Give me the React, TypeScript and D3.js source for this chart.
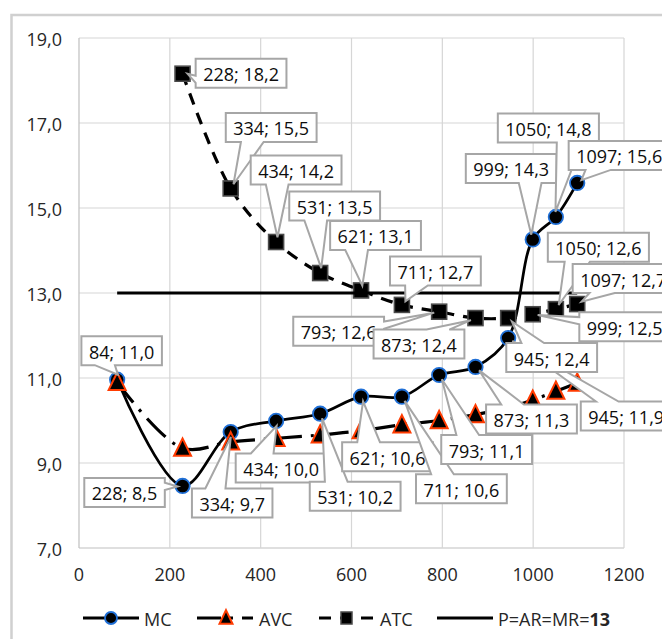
import React from "react";
import * as d3 from "d3";

const quantities = [84, 228, 334, 434, 531, 621, 711, 793, 873, 945, 999, 1050, 1097];
const mcValues = [10.96, 8.46, 9.73, 9.99, 10.16, 10.56, 10.56, 11.07, 11.26, 11.94, 14.26, 14.79, 15.59];
const avcValues = [10.9, 9.35, 9.5, 9.58, 9.66, 9.76, 9.9, 10.0, 10.14, 10.3, 10.48, 10.69, 10.88];
const atcValues: (number | null)[] = [null, 18.16, 15.46, 14.2, 13.47, 13.06, 12.72, 12.56, 12.41, 12.41, 12.5, 12.62, 12.74];
const priceValues = [13, 13, 13, 13, 13, 13, 13, 13, 13, 13, 13, 13, 13];
const xTicks = [0, 200, 400, 600, 800, 1000, 1200];
const yTicks = [7, 9, 11, 13, 15, 17, 19];
const seriesNames = ["MC", "AVC", "ATC", "P=AR=MR="];
const priceLabelValue = "13";

// label box offsets (px, box centre relative to point)
const mcLabelOffsets: [number, number][] = [[4.5, -29], [-58, 6.5], [1.5, 71], [5, 47], [35, 82.5], [26.5, 60], [59.5, 92], [47.5, 74.5], [56, 52], [118, 78], [-21.5, -71], [-7.5, -89], [42, -27.5]];
const atcLabelOffsets: ([number, number] | null)[] = [null, [58.5, -0.5], [40.5, -61], [20, -72], [14.5, -67], [14.5, -55], [33.5, -34], [-100.5, 19.5], [-56.5, 26], [43.5, 39.5], [92, 12.5], [42.5, -62], [46, -25.5]];

const W = 662, H = 639;
const PL = 79, PR = 624, PT = 38, PB = 548;
const FONT = "'Open Sans', 'Noto Sans', sans-serif";
const FS = 18;

const x = d3.scaleLinear().domain([0, 1200]).range([PL, PR]);
const y = d3.scaleLinear().domain([7, 19]).range([PB, PT]);

let ctx: CanvasRenderingContext2D | null = null;
function measure(t: string) {
  if (!ctx) ctx = document.createElement("canvas").getContext("2d");
  if (!ctx) return t.length * 9;
  ctx.font = `${FS}px ${FONT}`;
  return ctx.measureText(t).width;
}

function fmt(v: number) {
  return v.toFixed(1).replace(".", ",");
}

function calloutPath(l: number, t: number, w: number, h: number, px: number, py: number) {
  const r = l + w, b = t + h, hc = l + w / 2, vc = t + h / 2;
  const vx = px - hc, vy = py - vc;
  const len = Math.hypot(vx, vy) || 1;
  const tx = px - (vx / len) * 5, ty = py - (vy / len) * 5;
  const dx = tx - hc, dy = ty - vc;
  if (tx >= l && tx <= r && ty >= t && ty <= b) return `M${l},${t}H${r}V${b}H${l}Z`;
  const dq = (dx * h) / w;
  const dz = Math.abs(dy) - Math.abs(dq);
  const xa = dx > 0 ? l + (w * 7) / 12 : l + (w * 2) / 12;
  const xb = dx > 0 ? l + (w * 10) / 12 : l + (w * 5) / 12;
  const ya = dy > 0 ? t + (h * 7) / 12 : t + (h * 2) / 12;
  const yb = dy > 0 ? t + (h * 10) / 12 : t + (h * 5) / 12;
  if (dz > 0) {
    if (dy < 0) return `M${l},${t}L${xa},${t}L${tx},${ty}L${xb},${t}L${r},${t}L${r},${b}L${l},${b}Z`;
    return `M${l},${t}L${r},${t}L${r},${b}L${xb},${b}L${tx},${ty}L${xa},${b}L${l},${b}Z`;
  }
  if (dx > 0) return `M${l},${t}L${r},${t}L${r},${ya}L${tx},${ty}L${r},${yb}L${r},${b}L${l},${b}Z`;
  return `M${l},${t}L${r},${t}L${r},${b}L${l},${b}L${l},${yb}L${tx},${ty}L${l},${ya}Z`;
}

type Pt = { q: number; v: number };
function pts(vals: (number | null)[]): Pt[] {
  const out: Pt[] = [];
  quantities.forEach((q, i) => {
    const v = vals[i];
    if (v != null) out.push({ q, v });
  });
  return out;
}

const smooth = d3.line<Pt>().x((d) => x(d.q)).y((d) => y(d.v)).curve(d3.curveCatmullRom.alpha(0.5));
const straight = d3.line<Pt>().x((d) => x(d.q)).y((d) => y(d.v));

const triPath = (cx: number, cy: number, s: number) => {
  const h = s * 0.9;
  return `M${cx},${cy - h / 2 - 2}L${cx + s / 2},${cy + h / 2}L${cx - s / 2},${cy + h / 2}Z`;
};

function Circle({ cx, cy }: { cx: number; cy: number }) {
  return <circle cx={cx} cy={cy} r={7.2} fill="#000" stroke="#1f6fd6" strokeWidth={1.8} />;
}
function Tri({ cx, cy }: { cx: number; cy: number }) {
  return <path d={triPath(cx, cy, 17)} fill="#000" stroke="#ff3b00" strokeWidth={2} strokeLinejoin="miter" />;
}
function Sq({ cx, cy }: { cx: number; cy: number }) {
  return <rect x={cx - 7.5} y={cy - 7.5} width={15} height={15} fill="#000" stroke="#4a4a4a" strokeWidth={1.6} />;
}

function Labels({ vals, offs }: { vals: (number | null)[]; offs: ([number, number] | null)[] }) {
  return (
    <g>
      {quantities.map((q, i) => {
        const v = vals[i];
        const o = offs[i];
        if (v == null || !o) return null;
        const px = x(q), py = y(v);
        const text = `${q}; ${fmt(v)}`;
        const w = measure(text) + 15;
        const h = 29;
        const cx = px + o[0], cy = py + o[1];
        const l = cx - w / 2, t = cy - h / 2;
        return (
          <g key={i}>
            <path d={calloutPath(l, t, w, h, px, py)} fill="#fff" stroke="#a6a6a6" strokeWidth={2} strokeLinejoin="miter" />
            <text x={cx} y={cy + 1} textAnchor="middle" dominantBaseline="central" fontFamily={FONT} fontSize={FS} fill="#0d0d0d">
              {text}
            </text>
          </g>
        );
      })}
    </g>
  );
}

export default function App() {
  const mc = pts(mcValues);
  const avc = pts(avcValues);
  const atc = pts(atcValues);
  const price = pts(priceValues);
  const ly = 618;
  return (
    <svg width={W} height={H} style={{ position: "absolute", left: 0, top: 0, background: "#fff" }} fontFamily={FONT}>
      <rect x={11.5} y={15} width={900} height={900} fill="#fff" stroke="#d0d0d0" strokeWidth={2.5} />
      {yTicks.map((t) => (
        <line key={"gy" + t} x1={PL} x2={PR} y1={y(t)} y2={y(t)} stroke={t === 7 ? "#bfbfbf" : "#d6d6d6"} strokeWidth={1.2} />
      ))}
      {xTicks.map((t) => (
        <line key={"gx" + t} x1={x(t)} x2={x(t)} y1={PT} y2={PB} stroke={t === 0 ? "#bfbfbf" : "#d6d6d6"} strokeWidth={1.2} />
      ))}
      {yTicks.map((t) => (
        <text key={"ty" + t} x={62} y={y(t) + 1} textAnchor="end" dominantBaseline="central" fontSize={FS} fill="#262626">
          {fmt(t)}
        </text>
      ))}
      {xTicks.map((t) => (
        <text key={"tx" + t} x={x(t)} y={574} textAnchor="middle" dominantBaseline="central" fontSize={FS} fill="#262626">
          {t}
        </text>
      ))}
      <path d={smooth(mc) || ""} fill="none" stroke="#000" strokeWidth={2.75} />
      {mc.map((d, i) => <Circle key={"mc" + i} cx={x(d.q)} cy={y(d.v)} />)}
      <path d={smooth(avc) || ""} fill="none" stroke="#000" strokeWidth={3.2} strokeDasharray="26 9 3 9" />
      {avc.map((d, i) => <Tri key={"avc" + i} cx={x(d.q)} cy={y(d.v)} />)}
      <path d={smooth(atc) || ""} fill="none" stroke="#000" strokeWidth={3.2} strokeDasharray="12 9" />
      {atc.map((d, i) => <Sq key={"atc" + i} cx={x(d.q)} cy={y(d.v)} />)}
      <path d={straight(price) || ""} fill="none" stroke="#000" strokeWidth={3} />
      <Labels vals={mcValues} offs={mcLabelOffsets} />
      <Labels vals={atcValues} offs={atcLabelOffsets} />
      <g>
        <line x1={83} x2={139} y1={ly} y2={ly} stroke="#000" strokeWidth={3} />
        <circle cx={111} cy={ly} r={6} fill="#000" stroke="#1f6fd6" strokeWidth={1.8} />
        <text x={144} y={ly + 1} dominantBaseline="central" fontSize={FS} fill="#262626">{seriesNames[0]}</text>

        <line x1={197} x2={253} y1={ly} y2={ly} stroke="#000" strokeWidth={3} strokeDasharray="24 9 3 9" />
        <path d={triPath(226, ly, 13)} fill="#000" stroke="#ff3b00" strokeWidth={2} />
        <text x={259} y={ly + 1} dominantBaseline="central" fontSize={FS} fill="#262626">{seriesNames[1]}</text>

        <line x1={319} x2={375} y1={ly} y2={ly} stroke="#000" strokeWidth={3} strokeDasharray="12 9" />
        <rect x={341} y={ly - 6} width={11} height={12} fill="#000" stroke="#4a4a4a" strokeWidth={1.5} />
        <text x={380} y={ly + 1} dominantBaseline="central" fontSize={FS} fill="#262626">{seriesNames[2]}</text>

        <line x1={437} x2={493} y1={ly} y2={ly} stroke="#000" strokeWidth={3} />
        <text x={498} y={ly + 1} dominantBaseline="central" fontSize={FS} fill="#262626">
          {seriesNames[3]}
          <tspan fontWeight="bold">{priceLabelValue}</tspan>
        </text>
      </g>
    </svg>
  );
}
